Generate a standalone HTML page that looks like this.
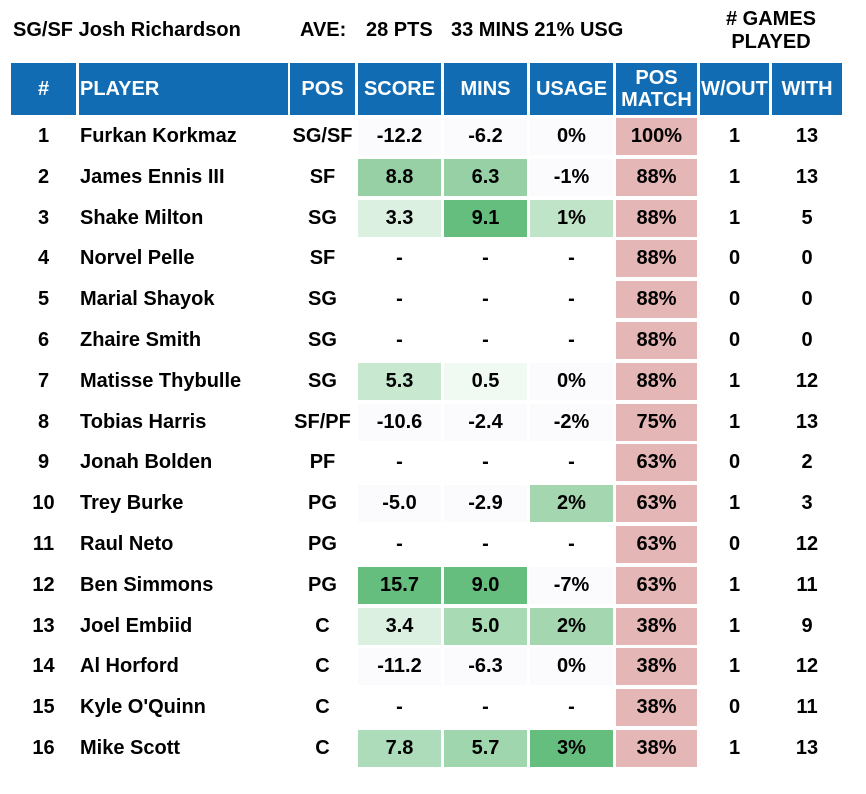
<!DOCTYPE html>
<html><head><meta charset="utf-8">
<style>
body{margin:0;background:#fff;width:866px;height:794px;overflow:hidden;font-family:"Liberation Sans",Arial,sans-serif;font-weight:bold;color:#000;}
#wrap{position:relative;width:866px;height:794px;}
.t{position:absolute;font-size:20px;white-space:nowrap;}
.c{position:absolute;display:flex;align-items:center;justify-content:center;font-size:20px;}
.h{background:#116cb3;color:#fff;font-size:20px;text-align:center;line-height:22px;}
.l{justify-content:flex-start;}
</style></head><body>
<div id="wrap">
<div class="t" style="left:13px;top:19px">SG/SF Josh Richardson</div>
<div class="t" style="left:300px;top:19px">AVE:</div>
<div class="t" style="left:366px;top:19px">28 PTS</div>
<div class="t" style="left:451px;top:19px">33 MINS 21% USG</div>
<div class="t" style="left:696px;top:8px;width:150px;text-align:center;line-height:23px"># GAMES<br>PLAYED</div>
</div>
<script>
const cols=[[11,65],[79,208],[290,65],[358,83],[444,83],[530,83],[616,81],[700,69],[772,70]];
const headers=["#","PLAYER","POS","SCORE","MINS","USAGE","POS<br>MATCH","W/OUT","WITH"];
const headerNames=["rank-header","player-header","pos-header","score-header","mins-header","usage-header","pos-match-header","without-header","with-header"];
const players=["Furkan Korkmaz","James Ennis III","Shake Milton","Norvel Pelle","Marial Shayok","Zhaire Smith","Matisse Thybulle","Tobias Harris","Jonah Bolden","Trey Burke","Raul Neto","Ben Simmons","Joel Embiid","Al Horford","Kyle O'Quinn","Mike Scott"];
const positions=["SG/SF","SF","SG","SF","SG","SG","SG","SF/PF","PF","PG","PG","PG","C","C","C","C"];
const scores=["-12.2","8.8","3.3","-","-","-","5.3","-10.6","-","-5.0","-","15.7","3.4","-11.2","-","7.8"];
const mins=["-6.2","6.3","9.1","-","-","-","0.5","-2.4","-","-2.9","-","9.0","5.0","-6.3","-","5.7"];
const usage=["0%","-1%","1%","-","-","-","0%","-2%","-","2%","-","-7%","2%","0%","-","3%"];
const posMatch=["100%","88%","88%","88%","88%","88%","88%","75%","63%","63%","63%","63%","38%","38%","38%","38%"];
const without=[1,1,1,0,0,0,1,1,0,1,0,1,1,1,0,1];
const withG=[13,13,5,0,0,0,12,13,2,3,12,11,9,12,11,13];
const scoreColors=["#fbfbfd","#98d0a5","#dcf0e1","#fff","#fff","#fff","#c9e8d0","#fbfbfd","#fff","#fbfbfd","#fff","#65bd7e","#dcf0e1","#fbfbfd","#fff","#acdcb9"];
const minsColors=["#fbfbfd","#98d0a5","#65bd7e","#fff","#fff","#fff","#f1f9f3","#fbfbfd","#fff","#fbfbfd","#fff","#65bd7e","#a8dab4","#fbfbfd","#fff","#a0d6ad"];
const usageColors=["#fbfbfd","#fbfbfd","#c0e4c8","#fff","#fff","#fff","#fbfbfd","#fbfbfd","#fff","#a4d6b0","#fff","#fbfbfd","#a4d6b0","#fbfbfd","#fff","#65bd7e"];
const wrap=document.getElementById('wrap');
function cell(x,y,w,h,html,bg,extra){
  const d=document.createElement('div');
  d.className='c'+(extra||'');
  d.style.left=x+'px';d.style.top=y+'px';d.style.width=w+'px';d.style.height=h+'px';
  if(bg)d.style.background=bg;
  d.innerHTML=html;wrap.appendChild(d);return d;
}
headers.forEach((t,i)=>{
  const d=cell(cols[i][0],63,cols[i][1],52,t,null,' h'+(i==1?' l':''));
  
  
  if(i==1)d.style.paddingLeft='1px';
});
players.forEach((p,r)=>{
  const y=Math.round(118+r*40.8);
  const vals=[r+1,p,positions[r],scores[r],mins[r],usage[r],posMatch[r],without[r],withG[r]];
  const bgs=[null,null,null,scoreColors[r],minsColors[r],usageColors[r],"#e4b6b5",null,null];
  const names=["rank","player-name","position","score","mins","usage","pos-match","games-without","games-with"];
  vals.forEach((v,i)=>{
    const d=cell(cols[i][0],y,cols[i][1],37,String(v),bgs[i],i==1?' l':'');
    if(i==1)d.style.paddingLeft='1px';
    
    
  });
});
</script>
</body></html>
